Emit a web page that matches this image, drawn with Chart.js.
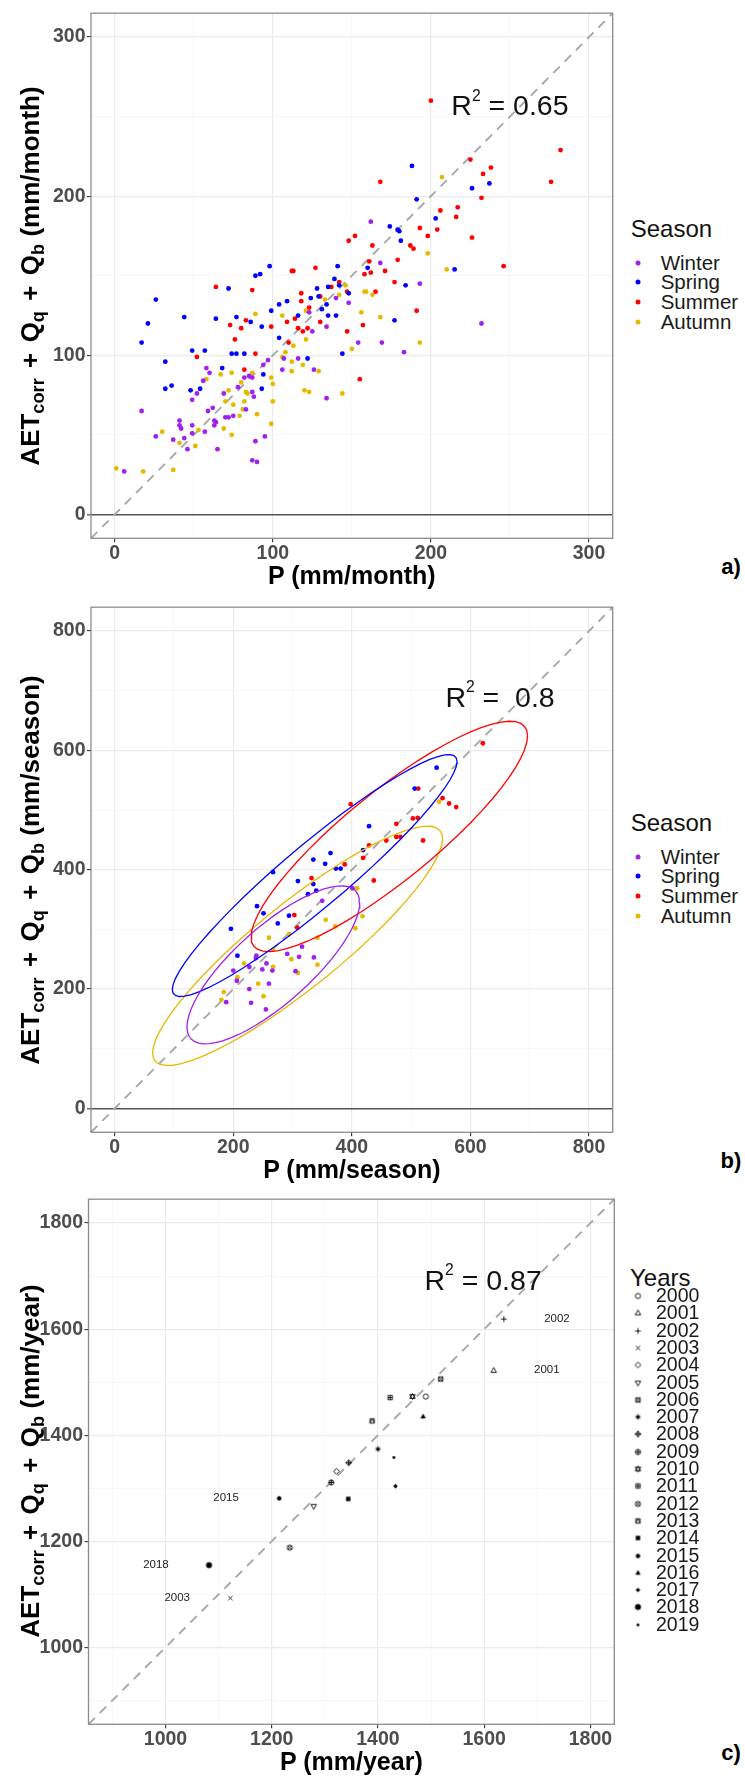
<!DOCTYPE html>
<html lang="en">
<head>
<meta charset="utf-8">
<title>AET + Q versus P</title>
<script src="https://cdn.jsdelivr.net/npm/chart.js@4.4.1/dist/chart.umd.min.js"></script>
<style>
  html, body { margin: 0; padding: 0; background: #fff; }
  #page { position: relative; width: 745px; height: 1778px; overflow: hidden;
          font-family: "Liberation Sans", Arial, Helvetica, sans-serif; color: #000; }
  #page canvas.panel { position: absolute; left: 0; }
  .txt { position: absolute; white-space: nowrap; line-height: 1; }
  .mid { transform: translate(-50%, -50%); }
  .lft { transform: translate(0, -50%); }
  .ytitle { font-size: 26px; font-weight: bold; transform: translate(-50%, -50%) rotate(-90deg); }
  .ytitle sub { font-size: 0.7em; vertical-align: -0.3em; line-height: 0; }
  .ytitle .op { margin: 0 0.12em; }
  .xtitle { font-size: 25px; font-weight: bold; }
  .tag { font-size: 22px; font-weight: bold; }
  .r2 { font-size: 28.5px; color: #111; }
  .r2 span { font-size: 0.55em; position: relative; top: -0.95em; }
  .legtitle { font-size: 24px; color: #111; }
  .leglab { font-size: 20.5px; color: #1a1a1a; }
  .yearlab { font-size: 19.5px; color: #1a1a1a; }
  .legdot { position: absolute; width: 5px; height: 5px; border-radius: 50%; transform: translate(-50%, -50%); }
  .legsym { position: absolute; transform: translate(-50%, -50%); }
  .yrlab { font-size: 11.5px; color: #222; }
</style>
</head>
<body>
<div id="page">
  <canvas class="panel" id="chartA" width="625" height="593"></canvas>
  <canvas class="panel" id="chartB" width="625" height="593"></canvas>
  <canvas class="panel" id="chartC" width="625" height="593"></canvas>
</div>
<script>
// ---------- data ----------
const seasons = ['Winter', 'Spring', 'Summer', 'Autumn'];

// a) monthly values, P and AETcorr + Qq + Qb (mm/month)
const winterMonthP  = [162,168,193,140,148,154,169,183,232,123,134,125,107,106,116,126,134,58,60,56,82,85,87,94,97,69,49,52,62,59,78,87,88,83,75,72,70,41,41,42,49,63,64,63,57,26,37,44,49,46,65,95,89,87,90,6,17];
const winterMonthET = [184,158,145,136,133,108,108,102,120,127,118,115,98,91,98,91,73,92,89,84,86,87,86,94,97,76,72,76,67,65,80,77,74,66,62,61,61,59,56,54,56,59,58,56,52,49,47,48,51,41,41,49,46,34,33,27,65];
const springMonthP  = [98,89,92,188,226,237,191,203,174,179,180,181,141,160,215,139,184,142,148,140,177,144,72,26,128,135,124,129,109,104,17,21,44,64,77,86,93,99,116,135,134,131,104,122,49,57,32,32,36,48,54,68,74,77,82,94,93];
const springMonthET = [156,150,151,219,205,208,198,186,181,179,178,172,156,155,154,148,144,144,139,125,122,101,142,135,142,143,136,137,134,132,108,120,124,123,124,121,118,128,125,125,132,129,111,98,103,103,96,79,81,78,79,92,101,101,101,88,79];
const summerMonthP  = [127,112,113,200,282,225,238,233,276,168,232,217,206,216,193,204,198,226,187,189,148,152,163,179,161,158,162,171,246,177,137,142,147,165,191,157,147,155,64,87,118,118,130,83,73,80,76,99,123,109,114,116,130,119,122,110,52,89,82];
const summerMonthET = [155,153,153,260,229,223,218,214,209,209,199,193,191,187,180,179,175,174,169,167,172,175,169,160,159,151,152,153,156,146,143,146,140,140,128,119,115,85,143,141,134,139,137,122,119,117,110,118,130,121,123,117,121,115,117,108,99,101,91];
const autumnMonthP  = [207,198,210,146,142,158,159,163,156,168,150,193,144,133,89,106,121,121,113,108,112,106,112,119,129,120,123,58,67,74,87,99,100,72,70,75,80,83,84,82,81,90,79,100,69,53,30,41,74,51,99,1,18,37];
const autumnMonthET = [212,164,154,144,138,140,140,138,127,124,104,108,76,135,126,125,128,110,106,102,96,99,90,94,90,78,77,85,88,89,89,86,82,78,71,69,83,77,76,71,66,63,62,71,54,53,52,45,50,43,57,29,27,28];

// b) seasonal totals (mm/season)
const winterSeasonP  = [401,350,316,239,238,200,227,249,256,266,291,311,336,305,206,227,260,230,255,188];
const winterSeasonET = [369,348,271,256,252,231,237,233,243,231,259,254,253,230,214,200,209,177,166,178];
const springSeasonP  = [429,419,267,335,355,364,373,381,309,335,340,326,240,251,275,294,196,207,543,506];
const springSeasonET = [473,433,396,417,410,428,402,402,381,376,365,359,339,327,310,323,301,256,571,536];
const summerSeasonP  = [398,429,419,388,332,437,303,308,621,512,553,564,576,503,511,475,475,482,458,520];
const summerSeasonET = [510,441,420,409,386,382,324,303,612,536,520,511,505,486,487,477,455,455,449,449];
const autumnSeasonP  = [409,356,372,342,418,406,260,294,267,218,267,298,342,309,207,242,251,184,180,547];
const autumnSeasonET = [369,316,305,286,322,302,286,292,266,243,237,250,241,227,220,209,188,195,182,514];

// c) annual totals (mm/year)
const years  = ['2000','2001','2002','2003','2004','2005','2006','2007','2008','2009','2010','2011','2012','2013','2014','2015','2016','2017','2018','2019'];
const yearP  = [1490,1618,1637,1122,1322,1279,1518,1400,1345,1312,1465,1423,1234,1389,1344,1214,1485,1433,1082,1430];
const yearET = [1473,1522,1619,1093,1332,1266,1506,1374,1348,1311,1473,1471,1188,1427,1280,1281,1435,1304,1155,1358];
const labelledYears = ['2002', '2001', '2015', '2018', '2003'];
const labelNudge    = [100, 100, -100, -100, -100];

// axis limits and tick labels
const monthLim = [-15, 315], seasonLim = [-40, 840], yearLim = [855, 1845];
const monthTicks  = [0, 100, 200, 300];
const seasonTicks = [0, 200, 400, 600, 800];
const yearTicks   = [1000, 1200, 1400, 1600, 1800];

// fit statistics shown on each panel
const r2Text = ['0.65', ' 0.8', '0.87'];
const r2At   = [[250, 257], [650, 690], [1598, 1692]];

// ---------- styling ----------
const FONT = '"Liberation Sans", Arial, Helvetica, sans-serif';
const seasonColors = ['#a020f0', '#0000ff', '#ff0000', '#e7b800'];
const yearSymbols = ['circleOpen', 'triangleOpen', 'plus', 'cross', 'diamondOpen', 'triangleDownOpen',
  'squareCross', 'asterisk', 'diamondPlus', 'circlePlus', 'davidStar', 'squarePlus', 'circleCross',
  'squareTriangle', 'squareFilled', 'circleFilled', 'triangleFilled', 'diamondFilled', 'circleBig', 'dot'];

const page = document.getElementById('page');

function addText(cls, html, x, y) {
  const d = document.createElement('div');
  d.className = 'txt ' + cls;
  d.innerHTML = html;
  d.style.left = x + 'px';
  d.style.top = y + 'px';
  page.appendChild(d);
  return d;
}

// 95% normal-theory ellipse (as stat_ellipse) computed from a season's points
function ellipsePoints(xs, ys, level) {
  const n = xs.length;
  const mx = xs.reduce((s, v) => s + v, 0) / n;
  const my = ys.reduce((s, v) => s + v, 0) / n;
  let sxx = 0, syy = 0, sxy = 0;
  for (let i = 0; i < n; i++) {
    sxx += (xs[i] - mx) ** 2;
    syy += (ys[i] - my) ** 2;
    sxy += (xs[i] - mx) * (ys[i] - my);
  }
  sxx /= n - 1; syy /= n - 1; sxy /= n - 1;
  const a = Math.sqrt(sxx), b = sxy / a, c = Math.sqrt(syy - b * b);
  const d = n - 1;
  const qf = d / 2 * (Math.pow(1 - level, -2 / d) - 1);
  const r = Math.sqrt(2 * qf);
  const pts = [];
  for (let i = 0; i <= 60; i++) {
    const t = 2 * Math.PI * i / 60;
    pts.push({ x: mx + r * a * Math.cos(t), y: my + r * (b * Math.cos(t) + c * Math.sin(t)) });
  }
  return pts;
}

// small R-like plotting symbols
function drawSymbol(g, kind, c, r) {
  const tri = (dir) => { g.moveTo(c, c - dir * r * 1.15); g.lineTo(c + r * 1.05, c + dir * r * 0.7); g.lineTo(c - r * 1.05, c + dir * r * 0.7); g.closePath(); };
  const plus = (s) => { g.moveTo(c - s, c); g.lineTo(c + s, c); g.moveTo(c, c - s); g.lineTo(c, c + s); };
  const cross = (s) => { g.moveTo(c - s, c - s); g.lineTo(c + s, c + s); g.moveTo(c - s, c + s); g.lineTo(c + s, c - s); };
  const diamond = (s) => { g.moveTo(c, c - s); g.lineTo(c + s, c); g.lineTo(c, c + s); g.lineTo(c - s, c); g.closePath(); };
  const square = (s) => g.rect(c - s, c - s, 2 * s, 2 * s);
  const circle = (s) => { g.moveTo(c + s, c); g.arc(c, c, s, 0, Math.PI * 2); };
  g.beginPath();
  switch (kind) {
    case 'circleOpen': circle(r); g.stroke(); break;
    case 'triangleOpen': tri(1); g.stroke(); break;
    case 'triangleDownOpen': tri(-1); g.stroke(); break;
    case 'plus': plus(r * 1.1); g.stroke(); break;
    case 'cross': cross(r * 0.8); g.stroke(); break;
    case 'diamondOpen': diamond(r * 1.1); g.stroke(); break;
    case 'squareCross': square(r * 0.85); cross(r * 0.85); g.stroke(); break;
    case 'asterisk': plus(r * 1.05); cross(r * 0.75); g.stroke(); break;
    case 'diamondPlus': diamond(r * 1.1); plus(r * 1.1); g.stroke(); break;
    case 'circlePlus': circle(r); plus(r); g.stroke(); break;
    case 'davidStar': tri(1); g.stroke(); g.beginPath(); tri(-1); g.stroke(); break;
    case 'squarePlus': square(r * 0.85); plus(r * 0.85); g.stroke(); break;
    case 'circleCross': circle(r); cross(r * 0.7); g.stroke(); break;
    case 'squareTriangle':
      square(r * 0.85); g.moveTo(c - r * 0.85, c + r * 0.85); g.lineTo(c, c - r * 0.85); g.lineTo(c + r * 0.85, c + r * 0.85); g.stroke(); break;
    case 'squareFilled': square(r * 0.85); g.fill(); break;
    case 'circleFilled': circle(r * 0.85); g.fill(); break;
    case 'triangleFilled': tri(1); g.fill(); break;
    case 'diamondFilled': diamond(r * 0.9); g.fill(); break;
    case 'circleBig': circle(r * 1.15); g.fill(); break;
    case 'dot': circle(r * 0.55); g.fill(); break;
  }
}

function symbolCanvas(kind) {
  const cv = document.createElement('canvas');
  cv.width = 11; cv.height = 11;
  const g = cv.getContext('2d');
  g.strokeStyle = '#000'; g.fillStyle = '#000'; g.lineWidth = 0.9;
  drawSymbol(g, kind, 5.5, 2.6);
  return cv;
}

function makeAxis(lim, step, major, isY, fit, zeroLine) {
  const isMajor = (c) => c.tick && major.includes(c.tick.value);
  const isZero = (c) => zeroLine && c.tick && c.tick.value === 0;
  return {
    type: 'linear', min: lim[0], max: lim[1],
    position: isY ? 'left' : 'bottom',
    border: { display: false },
    afterBuildTicks: (s) => {
      const list = [];
      for (let v = Math.ceil(lim[0] / step) * step; v <= lim[1]; v += step) list.push({ value: v });
      s.ticks = list;
    },
    ticks: {
      autoSkip: false, maxRotation: 0,
      padding: isY ? 1.5 : 0,
      color: '#4d4d4d',
      font: { family: FONT, size: 19.5, weight: 'bold' },
      callback: (v) => (major.includes(v) ? String(v) : '')
    },
    grid: {
      drawTicks: true, tickLength: 4, tickWidth: 1.1,
      color: (c) => isZero(c) ? '#555555' : (isMajor(c) ? '#ebebeb' : '#f4f4f4'),
      lineWidth: (c) => isZero(c) ? 1.6 : (isMajor(c) ? 1.2 : 0.6),
      tickColor: (c) => isMajor(c) ? '#333333' : 'rgba(0,0,0,0)'
    },
    afterFit: (s) => { if (isY) s.width = fit; else s.height = fit; }
  };
}

const panelBorder = {
  id: 'panelBorder',
  afterDatasetsDraw(chart) {
    const { ctx, chartArea: a } = chart;
    ctx.save();
    ctx.strokeStyle = '#8c8c8c';
    ctx.lineWidth = 1.3;
    ctx.strokeRect(a.left, a.top, a.right - a.left, a.bottom - a.top);
    ctx.restore();
  }
};

// panel geometry on the page (px)
const CANVAS_W = 625, CANVAS_H = 593, PAD_TOP = 8, PANEL_H = 530.3;
const panels = [
  { id: 'chartA', top: 8,      left: 91,   right: 612.7, lim: monthLim,  step: 50,  ticks: monthTicks,  zero: true,  unit: 'mm/month',  tag: 'a)' },
  { id: 'chartB', top: 601.8,  left: 91,   right: 612.7, lim: seasonLim, step: 100, ticks: seasonTicks, zero: true,  unit: 'mm/season', tag: 'b)' },
  { id: 'chartC', top: 1193.5, left: 88.5, right: 614.3, lim: yearLim,   step: 100, ticks: yearTicks,   zero: false, unit: 'mm/year',   tag: 'c)' }
];

function diagonal(lim) {
  return {
    label: '1:1', data: [{ x: lim[0], y: lim[0] }, { x: lim[1], y: lim[1] }],
    showLine: true, borderColor: '#a8a8a8', borderWidth: 1.9, borderDash: [9, 7],
    pointRadius: 0, order: 3
  };
}

function seasonPoints(pArr, eArr) {
  return seasons.map((s, i) => ({
    label: s,
    data: pArr[i].map((p, k) => ({ x: p, y: eArr[i][k] })),
    backgroundColor: seasonColors[i], borderWidth: 0,
    pointRadius: 2.4, pointHoverRadius: 2.4, order: 1
  }));
}

function buildPanel(p, datasets) {
  const canvas = document.getElementById(p.id);
  const canvasTop = p.top - PAD_TOP;
  canvas.style.top = canvasTop + 'px';
  const chart = new Chart(canvas, {
    type: 'scatter',
    data: { datasets },
    options: {
      responsive: false, animation: false, events: [],
      layout: { padding: { top: PAD_TOP, left: 0, bottom: 0, right: CANVAS_W - p.right } },
      plugins: { legend: { display: false }, tooltip: { enabled: false } },
      scales: {
        x: makeAxis(p.lim, p.step, p.ticks, false, CANVAS_H - PAD_TOP - PANEL_H, false),
        y: makeAxis(p.lim, p.step, p.ticks, true, p.left, p.zero)
      }
    },
    plugins: [panelBorder]
  });

  // titles and labels as page text
  const a = chart.chartArea;
  const sx = chart.scales.x, sy = chart.scales.y;
  addText('ytitle', 'AET<sub>corr</sub> <span class="op">+</span> Q<sub>q</sub> <span class="op">+</span> Q<sub>b</sub> (' + p.unit + ')',
    30, canvasTop + (a.top + a.bottom) / 2);
  addText('xtitle mid', 'P (' + p.unit + ')', (a.left + a.right) / 2, canvasTop + a.bottom + 37);
  addText('tag mid', p.tag, 731, canvasTop + a.bottom + 29);
  return { chart, canvasTop, sx, sy };
}

function addR2(res, i) {
  addText('r2 mid', 'R<span>2</span> = ' + r2Text[i].replace(' ', '&nbsp;'),
    res.sx.getPixelForValue(r2At[i][0]), res.canvasTop + res.sy.getPixelForValue(r2At[i][1]));
}

function seasonLegend(panelTop) {
  addText('legtitle lft', 'Season', 630.7, panelTop + 221);
  seasons.forEach((s, i) => {
    const y = panelTop + 254.7 + i * 19.7;
    const dot = document.createElement('div');
    dot.className = 'legdot';
    dot.style.left = '638.3px';
    dot.style.top = y + 'px';
    dot.style.background = seasonColors[i];
    page.appendChild(dot);
    addText('leglab lft', s, 660.7, y);
  });
}

// ---------- panel a ----------
const resA = buildPanel(panels[0], [
  ...seasonPoints(
    [winterMonthP, springMonthP, summerMonthP, autumnMonthP],
    [winterMonthET, springMonthET, summerMonthET, autumnMonthET]),
  diagonal(monthLim)
]);
addR2(resA, 0);
seasonLegend(panels[0].top);

// ---------- panel b ----------
const seasonP  = [winterSeasonP, springSeasonP, summerSeasonP, autumnSeasonP];
const seasonET = [winterSeasonET, springSeasonET, summerSeasonET, autumnSeasonET];
const ellipses = seasons.map((s, i) => ({
  label: s + ' ellipse',
  data: ellipsePoints(seasonP[i], seasonET[i], 0.95),
  showLine: true, borderColor: seasonColors[i], borderWidth: 1.3,
  pointRadius: 0, tension: 0, order: 0
}));
const resB = buildPanel(panels[1], [...ellipses, ...seasonPoints(seasonP, seasonET), diagonal(seasonLim)]);
addR2(resB, 1);
seasonLegend(panels[1].top);

// ---------- panel c ----------
const resC = buildPanel(panels[2], [
  {
    label: 'Years',
    data: years.map((y, i) => ({ x: yearP[i], y: yearET[i] })),
    pointStyle: yearSymbols.map(symbolCanvas),
    pointRadius: 3, order: 1
  },
  diagonal(yearLim)
]);
addR2(resC, 2);

labelledYears.forEach((yr, k) => {
  const i = years.indexOf(yr);
  addText('yrlab mid', yr, resC.sx.getPixelForValue(yearP[i] + labelNudge[k]),
    resC.canvasTop + resC.sy.getPixelForValue(yearET[i]));
});

// years legend
addText('legtitle lft', 'Years', 630, 1278);
years.forEach((yr, i) => {
  const y = 1296 + i * 17.3;
  const sym = symbolCanvas(yearSymbols[i]);
  sym.className = 'legsym';
  sym.style.left = '638px';
  sym.style.top = y + 'px';
  page.appendChild(sym);
  addText('yearlab lft', yr, 656, y);
});
</script>
</body>
</html>
